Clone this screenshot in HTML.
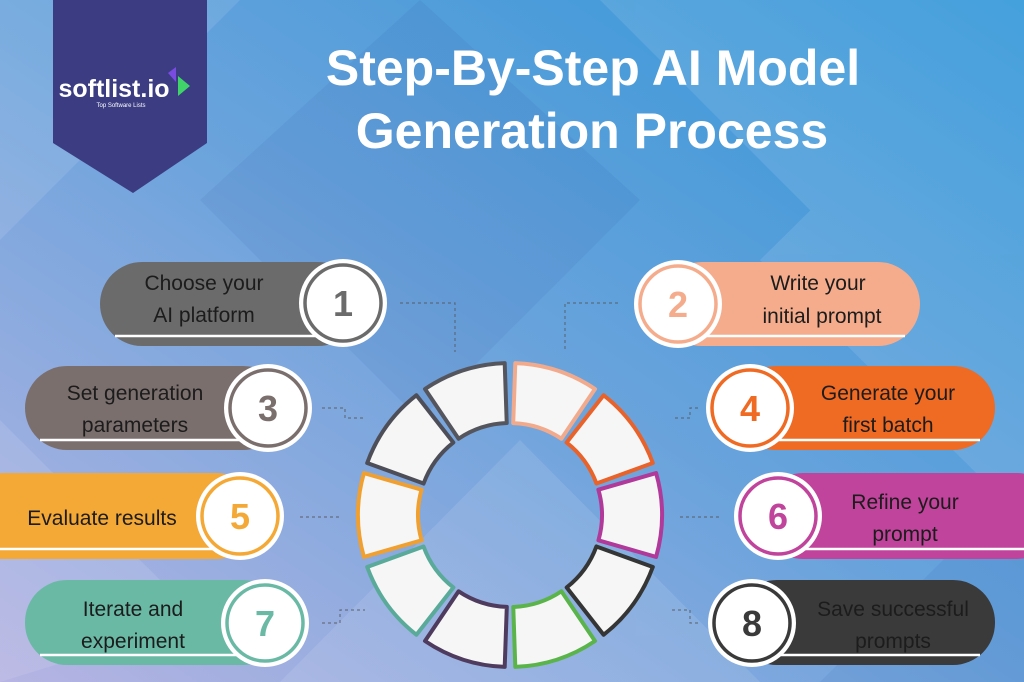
<!DOCTYPE html>
<html><head><meta charset="utf-8"><style>
html,body{margin:0;padding:0;width:1024px;height:682px;overflow:hidden}
svg{display:block}
.t{font-family:"Liberation Sans",sans-serif;font-size:21px;fill:#1c1c1c;text-anchor:middle}
.n{font-family:"Liberation Sans",sans-serif;font-size:36px;font-weight:bold;text-anchor:middle}
.h{font-family:"Liberation Sans",sans-serif;font-size:50px;font-weight:bold;fill:#fff;text-anchor:middle}
</style></head><body>
<svg width="1024" height="682" viewBox="0 0 1024 682" xmlns="http://www.w3.org/2000/svg">
<defs>
<linearGradient id="bg" x1="1" y1="0" x2="0" y2="1">
<stop offset="0" stop-color="#2f96d8"/><stop offset="0.5" stop-color="#6aa3dc"/><stop offset="1" stop-color="#b6b4e2"/>
</linearGradient>
</defs>
<rect width="1024" height="682" fill="url(#bg)"/>
<g fill="#fff" opacity="0.1">
<polygon points="0,0 240,0 0,240"/>
<polygon points="280,682 520,440 760,682"/>
<polygon points="600,0 820,220 1024,0"/>
<polygon points="0,420 200,620 0,682"/>
<polygon points="760,260 1024,0 1024,520"/>
</g>
<g fill="#1a3c8a" opacity="0.07">
<polygon points="200,200 420,0 640,200 420,420"/>
<polygon points="820,682 1024,480 1024,682"/>
</g>
<!-- banner -->
<polygon points="53,0 207,0 207,143 133,193 53,143" fill="#3b3c82"/>
<text x="114" y="97" font-family="Liberation Sans,sans-serif" font-size="25" font-weight="bold" fill="#fff" text-anchor="middle">softlist.io</text>
<polygon points="168,73 176,67 176,82" fill="#7a4be0"/>
<polygon points="178,76 190,86 178,96" fill="#3fd36a"/>
<text x="121" y="107" font-family="Liberation Sans,sans-serif" font-size="6" fill="#fff" text-anchor="middle">Top Software Lists</text>
<!-- title -->
<text class="h" x="593" y="85">Step-By-Step AI Model</text>
<text class="h" x="592" y="148">Generation Process</text>
<!-- connectors -->
<g stroke="#555" stroke-width="1.2" stroke-dasharray="3,3" fill="none" opacity="0.7">
<path d="M400,303 H455 V352"/><path d="M618,303 H565 V352"/>
<path d="M322,408 H345 V418 H365"/><path d="M698,408 H690 V418 H672"/>
<path d="M300,517 H340"/><path d="M680,517 H720"/>
<path d="M322,623 H340 V610 H365"/><path d="M698,623 H690 V610 H672"/>
</g>
<!-- ring -->
<g transform="translate(510,515)" fill="#f6f6f6" stroke-width="4" stroke-linejoin="round">
<path d="M5.3,-151.9 A152,152 0 0 1 85,-126 L51.4,-76.3 A92,92 0 0 0 3.2,-91.9 Z" stroke="#f2aa8c"/>
<path transform="rotate(36)" d="M5.3,-151.9 A152,152 0 0 1 85,-126 L51.4,-76.3 A92,92 0 0 0 3.2,-91.9 Z" stroke="#e8622a"/>
<path transform="rotate(72)" d="M5.3,-151.9 A152,152 0 0 1 85,-126 L51.4,-76.3 A92,92 0 0 0 3.2,-91.9 Z" stroke="#b0399a"/>
<path transform="rotate(108)" d="M5.3,-151.9 A152,152 0 0 1 85,-126 L51.4,-76.3 A92,92 0 0 0 3.2,-91.9 Z" stroke="#353535"/>
<path transform="rotate(144)" d="M5.3,-151.9 A152,152 0 0 1 85,-126 L51.4,-76.3 A92,92 0 0 0 3.2,-91.9 Z" stroke="#5ab44a"/>
<path transform="rotate(180)" d="M5.3,-151.9 A152,152 0 0 1 85,-126 L51.4,-76.3 A92,92 0 0 0 3.2,-91.9 Z" stroke="#4e3b5e"/>
<path transform="rotate(216)" d="M5.3,-151.9 A152,152 0 0 1 85,-126 L51.4,-76.3 A92,92 0 0 0 3.2,-91.9 Z" stroke="#5aaa9a"/>
<path transform="rotate(252)" d="M5.3,-151.9 A152,152 0 0 1 85,-126 L51.4,-76.3 A92,92 0 0 0 3.2,-91.9 Z" stroke="#f0a030"/>
<path transform="rotate(288)" d="M5.3,-151.9 A152,152 0 0 1 85,-126 L51.4,-76.3 A92,92 0 0 0 3.2,-91.9 Z" stroke="#4e4e58"/>
<path transform="rotate(324)" d="M5.3,-151.9 A152,152 0 0 1 85,-126 L51.4,-76.3 A92,92 0 0 0 3.2,-91.9 Z" stroke="#55555e"/>
</g>
<!-- pills left -->
<g>
<rect x="100" y="262" width="260" height="84" rx="42" fill="#6b6b6b"/><line x1="115" y1="336" x2="350" y2="336" stroke="#fff" stroke-width="2.5"/>
<rect x="25" y="366" width="260" height="84" rx="42" fill="#7a6f6d"/><line x1="40" y1="440" x2="270" y2="440" stroke="#fff" stroke-width="2.5"/>
<rect x="-40" y="473" width="300" height="86" rx="43" fill="#f4a836"/><line x1="0" y1="549" x2="245" y2="549" stroke="#fff" stroke-width="2.5"/>
<rect x="25" y="580" width="260" height="85" rx="42" fill="#6ab9a5"/><line x1="40" y1="655" x2="270" y2="655" stroke="#fff" stroke-width="2.5"/>
</g>
<g>
<rect x="660" y="262" width="260" height="84" rx="42" fill="#f4ac8c"/><line x1="670" y1="336" x2="905" y2="336" stroke="#fff" stroke-width="2.5"/>
<rect x="735" y="366" width="260" height="84" rx="42" fill="#ef6a22"/><line x1="745" y1="440" x2="980" y2="440" stroke="#fff" stroke-width="2.5"/>
<rect x="760" y="473" width="300" height="86" rx="43" fill="#c0439c"/><line x1="770" y1="549" x2="1024" y2="549" stroke="#fff" stroke-width="2.5"/>
<rect x="735" y="580" width="260" height="85" rx="42" fill="#3a3a3a"/><line x1="745" y1="655" x2="980" y2="655" stroke="#fff" stroke-width="2.5"/>
</g>
<!-- circles -->
<g stroke-width="3.5" fill="#fff">
<circle cx="343" cy="303" r="44" stroke="none"/><circle cx="343" cy="303" r="38" stroke="#6b6b6b"/>
<circle cx="268" cy="408" r="44" stroke="none"/><circle cx="268" cy="408" r="38" stroke="#7a6f6d"/>
<circle cx="240" cy="516" r="44" stroke="none"/><circle cx="240" cy="516" r="38" stroke="#f4a836"/>
<circle cx="265" cy="623" r="44" stroke="none"/><circle cx="265" cy="623" r="38" stroke="#6ab9a5"/>
<circle cx="678" cy="304" r="44" stroke="none"/><circle cx="678" cy="304" r="38" stroke="#f4ac8c"/>
<circle cx="750" cy="408" r="44" stroke="none"/><circle cx="750" cy="408" r="38" stroke="#ef6a22"/>
<circle cx="778" cy="516" r="44" stroke="none"/><circle cx="778" cy="516" r="38" stroke="#c0439c"/>
<circle cx="752" cy="623" r="44" stroke="none"/><circle cx="752" cy="623" r="38" stroke="#3a3a3a"/>
</g>
<text class="n" x="343" y="316" fill="#6b6b6b">1</text>
<text class="n" x="268" y="421" fill="#7a6f6d">3</text>
<text class="n" x="240" y="529" fill="#f4a836">5</text>
<text class="n" x="265" y="636" fill="#6ab9a5">7</text>
<text class="n" x="678" y="317" fill="#f4ac8c">2</text>
<text class="n" x="750" y="421" fill="#ef6a22">4</text>
<text class="n" x="778" y="529" fill="#c0439c">6</text>
<text class="n" x="752" y="636" fill="#3a3a3a">8</text>
<!-- labels -->
<text class="t" x="204" y="290">Choose your</text><text class="t" x="204" y="322">AI platform</text>
<text class="t" x="135" y="400">Set generation</text><text class="t" x="135" y="432">parameters</text>
<text class="t" x="102" y="525">Evaluate results</text>
<text class="t" x="133" y="616">Iterate and</text><text class="t" x="133" y="648">experiment</text>
<text class="t" x="818" y="290">Write your</text><text class="t" x="822" y="323">initial prompt</text>
<text class="t" x="888" y="400">Generate your</text><text class="t" x="888" y="432">first batch</text>
<text class="t" x="905" y="509">Refine your</text><text class="t" x="905" y="541">prompt</text>
<text class="t" x="893" y="616">Save successful</text><text class="t" x="893" y="648">prompts</text>
</svg>
</body></html>
